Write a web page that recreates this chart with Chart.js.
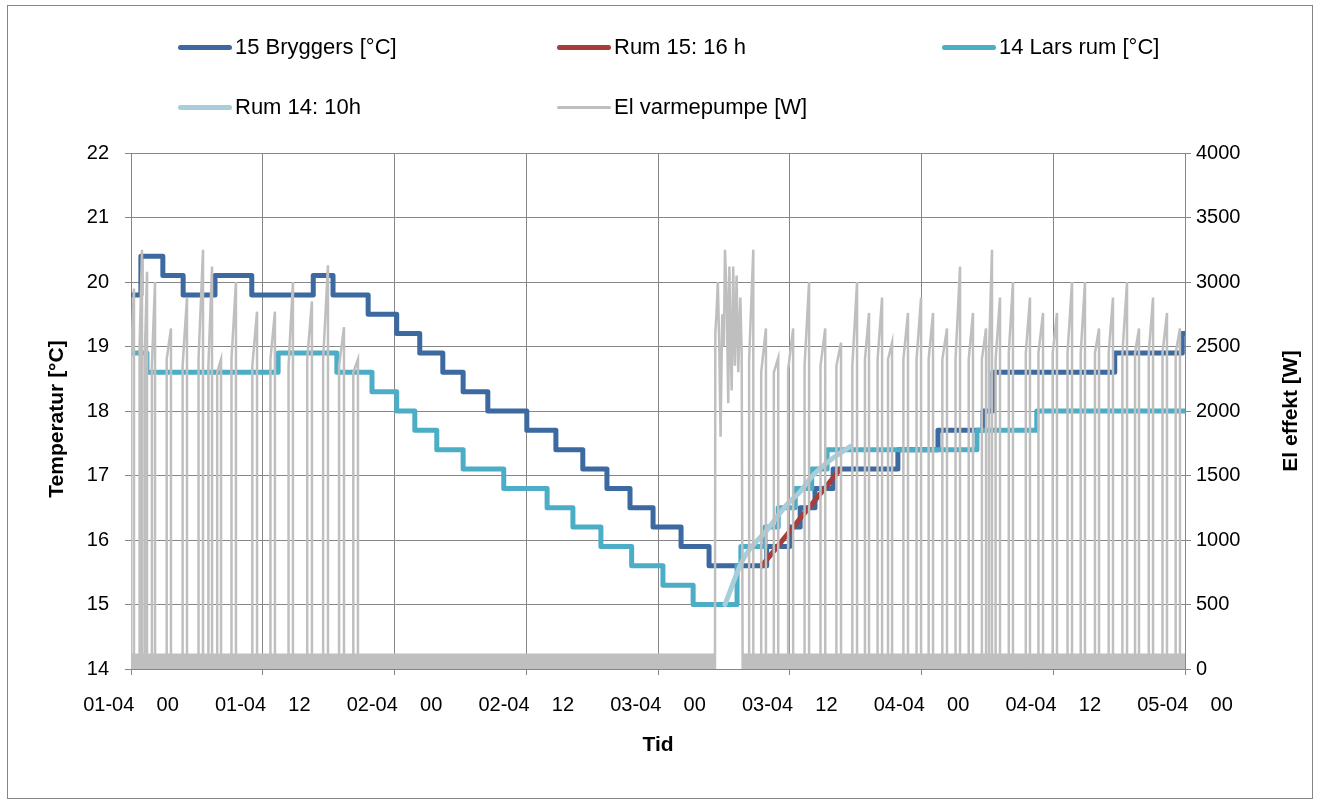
<!DOCTYPE html>
<html>
<head>
<meta charset="utf-8">
<script src="https://cdn.jsdelivr.net/npm/chart.js@4.4.1/dist/chart.umd.min.js"></script>
<style>
  html, body { margin: 0; padding: 0; background: #fff; }
  #wrap { position: relative; width: 1317px; height: 805px; overflow: hidden; }
  #frame { position: absolute; left: 7px; top: 5px; width: 1304px; height: 792px; border: 1px solid #868686; }
  #chart { position: absolute; left: 0; top: 0; }
  .item { position: absolute; height: 24px; font: 22px "Liberation Sans", Arial, sans-serif; color: #000; white-space: nowrap; }
  .item .sw { position: absolute; left: 0; top: 10px; width: 54px; height: 5px; border-radius: 3px; }
  .item span { position: absolute; left: 57px; top: 0; line-height: 24px; }
</style>
</head>
<body>
<div id="wrap">
  <div id="frame"></div>
  <canvas id="chart" width="1317" height="805"></canvas>
  <div id="legend"></div>
</div>
<script>
// x axis: hours since 01-04 00
const xTickLabels = ["01-04    00", "01-04    12", "02-04    00", "02-04    12", "03-04    00",
  "03-04    12", "04-04    00", "04-04    12", "05-04    00"];

// 15 Bryggers [°C] (change points, value holds until next point)
const brygHours = [0, 0.9, 2.9, 4.75, 7.65, 11.0, 16.6, 18.4, 21.6, 24.2, 26.3, 28.4, 30.25, 32.5, 36.05,
  38.7, 41.15, 43.35, 45.45, 47.55, 50.1, 52.65, 57.9, 60.0, 60.95, 62.3, 63.95, 69.85, 73.5, 77.6,
  78.5, 89.6, 95.75, 96];
const brygTemps = [19.8, 20.4, 20.1, 19.8, 20.1, 19.8, 20.1, 19.8, 19.5, 19.2, 18.9, 18.6, 18.3, 18.0, 17.7,
  17.4, 17.1, 16.8, 16.5, 16.2, 15.9, 15.6, 15.9, 16.2, 16.5, 16.8, 17.1, 17.4, 17.7, 18.0,
  18.6, 18.9, 19.2, 19.2];

// Rum 15: 16 h
const rum15Hours = [57.45, 64.6];
const rum15Temps = [15.6, 17.1];

// 14 Lars rum [°C]
const larsHours = [0, 1.45, 13.4, 18.75, 21.95, 24.2, 25.85, 27.85, 30.25, 33.95, 37.9, 40.25, 42.8,
  45.6, 48.45, 51.2, 55.2, 55.55, 57.75, 58.95, 60.5, 62.0, 63.4, 77.05, 82.5, 96];
const larsTemps = [18.9, 18.6, 18.9, 18.6, 18.3, 18.0, 17.7, 17.4, 17.1, 16.8, 16.5, 16.2, 15.9,
  15.6, 15.3, 15.0, 15.6, 15.9, 16.2, 16.5, 16.8, 17.1, 17.4, 17.7, 18.0, 18.0];

// Rum 14: 10h
const rum14Hours = [54.1, 55.75, 57.9, 59.75, 60.95, 62.1, 63.4, 65.5];
const rum14Temps = [15.0, 15.7, 16.15, 16.55, 16.75, 17.0, 17.2, 17.45];

// El varmepumpe [W]: compressor cycles (switch on, switch off, level at start, peak before stop)
const elOn = [0.0, 0.78, 1.25, 1.9, 3.25, 4.7, 6.15, 7.05, 7.85, 9.15, 11.05, 12.7, 14.35, 16.05, 17.5,
  18.95, 20.25,
  56.3, 57.4, 58.55, 59.85, 61.35, 62.8, 64.25, 65.7, 66.85, 68.0, 68.95, 70.35, 71.55, 72.65, 73.9,
  75.1, 76.3, 77.5, 78.15, 78.75, 79.95, 81.5, 82.65, 83.95, 85.3, 86.5, 87.8, 89.05, 90.3, 91.45,
  92.7, 93.95, 95.15];
const elOff = [0.27, 1.0, 1.46, 2.19, 3.64, 5.1, 6.56, 7.38, 8.2, 9.56, 11.48, 13.11, 14.75, 16.48, 17.94,
  19.4, 20.67,
  56.68, 57.83, 58.95, 60.31, 61.76, 63.23, 64.67, 66.13, 67.22, 68.41, 69.32, 70.77, 71.96, 73.05, 74.32,
  75.51, 76.69, 77.88, 78.42, 79.15, 80.33, 81.88, 83.07, 84.34, 85.71, 86.89, 88.17, 89.44, 90.72, 91.81,
  93.09, 94.36, 95.54];
const elRun = [2400, 2500, 2400, 2350, 2400, 2350, 2400, 2350, 2300, 2400, 2350, 2400, 2350, 2400, 2400,
  2350, 2300,
  2400, 2300, 2300, 2320, 2350, 2350, 2350, 2350, 2400, 2400, 2400, 2400, 2400, 2400, 2400,
  2400, 2400, 2400, 2450, 2400, 2450, 2450, 2450, 2450, 2450, 2450, 2450, 2450, 2450, 2450,
  2450, 2450, 2450];
const elPeak = [2950, 3250, 3080, 3000, 2640, 2880, 3250, 3120, 2400, 3000, 2770, 2770, 3000, 2850, 3130,
  2650, 2400,
  3250, 2640, 2410, 2640, 3000, 2640, 2530, 3000, 2760, 2880, 2530, 2760, 2880, 2760, 2640,
  3120, 2760, 2640, 3250, 2880, 3000, 2880, 2760, 2760, 3000, 3000, 2640, 2880, 3000, 2640,
  2880, 2760, 2640];
// restart burst on 03-04 morning
const burstHours = [53.19, 53.22, 53.33, 53.45, 53.58, 53.7, 53.85, 54.0, 54.1, 54.25, 54.4, 54.5, 54.62,
  54.71, 54.85, 55.0, 55.16, 55.31, 55.5, 55.62, 55.71];
const burstWatts = [0, 2600, 2760, 3000, 2500, 1800, 2750, 2500, 3250, 2900, 2060, 3120, 2500,
  2160, 3120, 2350, 3050, 2300, 2880, 2450, 0];
// standby flicker band (top of the dense 0..~120 W noise)
const bandHours = [0, 53.19, 53.19, 55.71, 55.71, 96];
const bandWatts = [120, 120, 0, 0, 120, 120];

const toPts = (xs, ys) => xs.map((x, i) => ({ x: x, y: ys[i] }));

let elPoints = [];
elOn.forEach((on, i) => {
  elPoints.push({ x: on, y: 0 }, { x: on, y: elRun[i] }, { x: elOff[i], y: elPeak[i] }, { x: elOff[i], y: 0 });
});
elPoints = elPoints.concat(toPts(burstHours, burstWatts));
elPoints.sort((a, b) => a.x - b.x);

const FONT = "'Liberation Sans', Arial, sans-serif";
const GRID = "#868686";

const series = [
  { label: "15 Bryggers [°C]", color: "#3B69A0", width: 5 },
  { label: "Rum 15: 16 h", color: "#A83C38", width: 5 },
  { label: "14 Lars rum [°C]", color: "#4BADC6", width: 5 },
  { label: "Rum 14: 10h", color: "#A8CDDB", width: 5 },
  { label: "El varmepumpe [W]", color: "#BFBFBF", width: 3 },
];

// legend, 3 columns
const legendPos = [[178, 35], [557, 35], [942, 35], [178, 95], [557, 95]];
const legend = document.getElementById("legend");
series.forEach((s, i) => {
  const d = document.createElement("div");
  d.className = "item";
  d.style.left = legendPos[i][0] + "px";
  d.style.top = legendPos[i][1] + "px";
  d.innerHTML = '<div class="sw" style="background:' + s.color + ";height:" + s.width + "px;top:" +
    (12 - s.width / 2) + 'px"></div><span>' + s.label + "</span>";
  legend.appendChild(d);
});

const axisTitles = {
  id: "axisTitles",
  afterDraw(chart) {
    const c = chart.ctx;
    const a = chart.chartArea;
    const midY = (a.top + a.bottom) / 2;
    c.save();
    c.fillStyle = "#000";
    c.font = "bold 21px " + FONT;
    c.textAlign = "center";
    c.textBaseline = "middle";
    c.fillText("Tid", (a.left + a.right) / 2, 745);
    c.translate(57, midY + 8);
    c.rotate(-Math.PI / 2);
    c.fillText("Temperatur [°C]", 0, 0);
    c.restore();
    c.save();
    c.fillStyle = "#000";
    c.font = "bold 21px " + FONT;
    c.textAlign = "center";
    c.textBaseline = "middle";
    c.translate(1291, midY);
    c.rotate(-Math.PI / 2);
    c.fillText("El effekt [W]", 0, 0);
    c.restore();
  },
};

const tempLine = (s, data, extra) => Object.assign({
  label: s.label,
  data: data,
  borderColor: s.color,
  backgroundColor: s.color,
  borderWidth: s.width,
  pointRadius: 0,
  borderJoinStyle: "round",
  borderCapStyle: "round",
  yAxisID: "y",
  fill: false,
}, extra);

new Chart(document.getElementById("chart"), {
  type: "line",
  data: {
    datasets: [
      tempLine(series[0], toPts(brygHours, brygTemps), { stepped: "before", order: 5 }),
      tempLine(series[1], toPts(rum15Hours, rum15Temps), { order: 4 }),
      tempLine(series[2], toPts(larsHours, larsTemps), { stepped: "before", order: 3 }),
      tempLine(series[3], toPts(rum14Hours, rum14Temps), { cubicInterpolationMode: "monotone", order: 2 }),
      {
        label: "band",
        data: toPts(bandHours, bandWatts),
        borderWidth: 0,
        pointRadius: 0,
        backgroundColor: series[4].color,
        fill: "origin",
        yAxisID: "y2",
        order: 1,
      },
      {
        label: series[4].label,
        data: elPoints,
        borderColor: series[4].color,
        borderWidth: 2.5,
        pointRadius: 0,
        tension: 0,
        fill: false,
        yAxisID: "y2",
        order: 0,
      },
    ],
  },
  options: {
    responsive: false,
    animation: false,
    devicePixelRatio: 1,
    layout: { padding: { top: 153, left: 0, right: 0, bottom: 0 } },
    plugins: { legend: { display: false }, tooltip: { enabled: false } },
    scales: {
      x: {
        type: "linear",
        min: 0,
        max: 96,
        ticks: {
          stepSize: 12,
          autoSkip: false,
          maxRotation: 0,
          padding: 18,
          color: "#000",
          font: { family: FONT, size: 20 },
          callback: (v) => xTickLabels[v / 12],
        },
        grid: { color: GRID, tickLength: 6 },
        border: { color: GRID },
        afterFit(s) { s.height = 136; },
      },
      y: {
        position: "left",
        min: 14,
        max: 22,
        ticks: { stepSize: 1, padding: 16, color: "#000", font: { family: FONT, size: 20 } },
        grid: { color: GRID, tickLength: 6 },
        border: { color: GRID },
        afterFit(s) { s.width = 131; },
      },
      y2: {
        position: "right",
        min: 0,
        max: 4000,
        ticks: {
          stepSize: 500,
          padding: 5,
          color: "#000",
          font: { family: FONT, size: 20 },
          callback: (v) => String(v),
        },
        grid: { drawOnChartArea: false, color: GRID, tickLength: 6 },
        border: { color: GRID },
        afterFit(s) { s.width = 132; },
      },
    },
  },
  plugins: [axisTitles],
});
</script>
</body>
</html>
